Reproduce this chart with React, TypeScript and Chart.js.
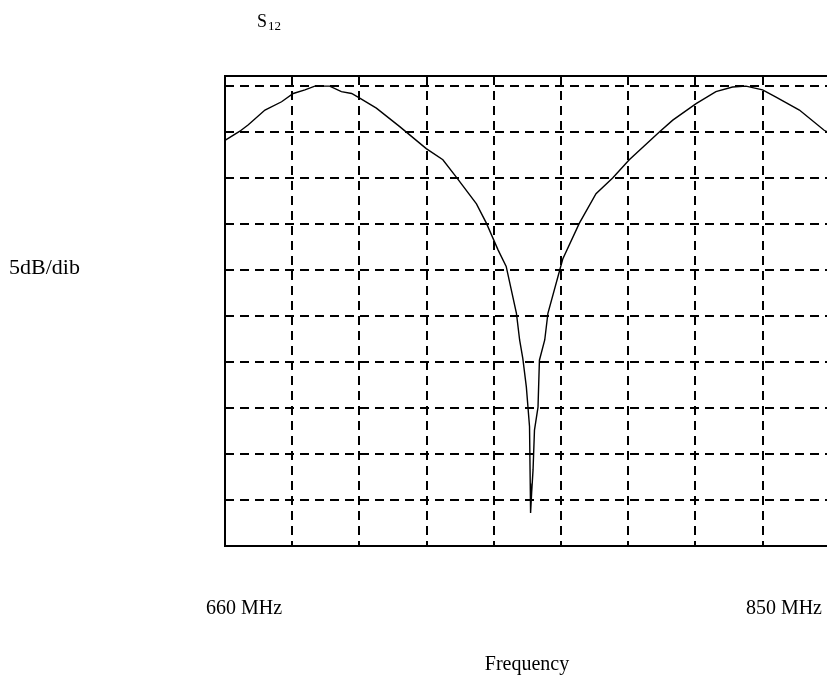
import { useEffect, useRef } from "react";
import { Chart, registerables } from "chart.js";

Chart.register(...registerables);

// Frequency axis (MHz) and S12 trace (dB)
const frequencyMHz = [
  660, 664.2, 666.6, 671.3, 676.0, 679.3, 682.6, 685.4, 689.6, 692.9, 695.8, 698.1,
  702.8, 709.4, 716.9, 721.6, 725.4, 731.1, 733.9, 737.2, 739.5, 742.4, 743.3, 744.2,
  745.2, 746.1, 746.3, 746.4, 746.7, 747.1, 747.5, 748.5, 748.9, 750.4, 751.3, 755.5,
  760.2, 764.9, 769.6, 774.3, 782.8, 786.6, 793.2, 798.8, 803.5, 807.3, 812.0, 815.8,
  822.4, 829.4, 832.0,
];
const s12dB = [
  -5.9, -4.9, -4.2, -2.6, -1.7, -0.8, -0.4, 0, 0, -0.6, -0.8, -1.3,
  -2.4, -4.4, -6.8, -8.0, -9.9, -12.8, -14.9, -17.8, -19.6, -24.7, -27.6, -29.6,
  -32.7, -37.0, -43.2, -46.4, -44.2, -41.7, -37.4, -34.9, -29.8, -27.6, -24.7, -18.8,
  -14.9, -11.7, -10.0, -8.0, -5.0, -3.7, -1.9, -0.6, -0.1, 0, -0.4, -1.2,
  -2.6, -4.8, -5.3,
];

// Grid (10 horizontal divisions of 19 MHz, 5 dB per vertical division)
const xMinMHz = 660;
const xMaxMHz = 850;
const xGridMHz = [679, 698, 717, 736, 755, 774, 793, 812, 831];
const yMinDB = -50;
const yMaxDB = 1.1;
const yGridDB = [0, -5, -10, -15, -20, -25, -30, -35, -40, -45];

// Texts
const titleMain = "S";
const titleSub = "12";
const yScaleText = "5dB/dib";
const xStartText = "660 MHz";
const xEndText = "850 MHz";
const xTitleText = "Frequency";

const SERIF = '"Liberation Serif", "Times New Roman", Times, serif';

const framePlugin = {
  id: "frameAndTexts",
  afterDraw(chart: any) {
    const { ctx, chartArea } = chart;
    const { left, top, right, bottom } = chartArea;
    ctx.save();
    ctx.strokeStyle = "#000";
    ctx.lineWidth = 2;
    ctx.setLineDash([]);
    ctx.strokeRect(left, top, right - left, bottom - top);

    ctx.fillStyle = "#000";
    ctx.textBaseline = "alphabetic";
    ctx.textAlign = "left";
    ctx.font = `18px ${SERIF}`;
    ctx.fillText(titleMain, 257, 27);
    const sw = ctx.measureText(titleMain).width;
    ctx.font = `13px ${SERIF}`;
    ctx.fillText(titleSub, 257 + sw + 1, 30);

    ctx.font = `22px ${SERIF}`;
    ctx.fillText(yScaleText, 9, 274);

    ctx.font = `20px ${SERIF}`;
    ctx.fillText(xStartText, 206, 614);
    ctx.textAlign = "right";
    ctx.fillText(xEndText, 822, 614);
    ctx.textAlign = "center";
    ctx.fillText(xTitleText, 527, 670);
    ctx.restore();
  },
};

export default function App() {
  const canvasRef = useRef<HTMLCanvasElement | null>(null);

  useEffect(() => {
    const canvas = canvasRef.current;
    if (!canvas) return;
    const points = frequencyMHz.map((f, i) => ({ x: f, y: s12dB[i] }));
    const chart = new Chart(canvas, {
      type: "line",
      data: {
        datasets: [
          {
            data: points,
            borderColor: "#000",
            borderWidth: 1.4,
            pointRadius: 0,
            tension: 0,
            fill: false,
          },
        ],
      },
      options: {
        responsive: false,
        maintainAspectRatio: false,
        devicePixelRatio: 1,
        animation: false,
        layout: { padding: { left: 225, top: 76, right: 1000 - 897, bottom: 680 - 546 } },
        plugins: { legend: { display: false }, tooltip: { enabled: false }, title: { display: false } },
        scales: {
          x: {
            type: "linear",
            min: xMinMHz,
            max: xMaxMHz,
            afterBuildTicks: (s: any) => {
              s.ticks = xGridMHz.map((v) => ({ value: v }));
            },
            afterFit: (s: any) => {
              s.height = 0;
            },
            ticks: { display: false },
            grid: { color: "#000", lineWidth: 2, drawTicks: false },
            border: { display: false, dash: [9, 6] },
          },
          y: {
            type: "linear",
            min: yMinDB,
            max: yMaxDB,
            afterBuildTicks: (s: any) => {
              s.ticks = yGridDB.map((v) => ({ value: v }));
            },
            afterFit: (s: any) => {
              s.width = 0;
            },
            ticks: { display: false },
            grid: { color: "#000", lineWidth: 2, drawTicks: false },
            border: { display: false, dash: [9, 6] },
          },
        },
      },
      plugins: [framePlugin],
    });
    return () => chart.destroy();
  }, []);

  return (
    <div
      style={{
        position: "fixed",
        left: 0,
        top: 0,
        width: 827,
        height: 680,
        overflow: "hidden",
        background: "#fff",
      }}
    >
      <canvas ref={canvasRef} width={1000} height={680} style={{ display: "block" }} />
    </div>
  );
}
